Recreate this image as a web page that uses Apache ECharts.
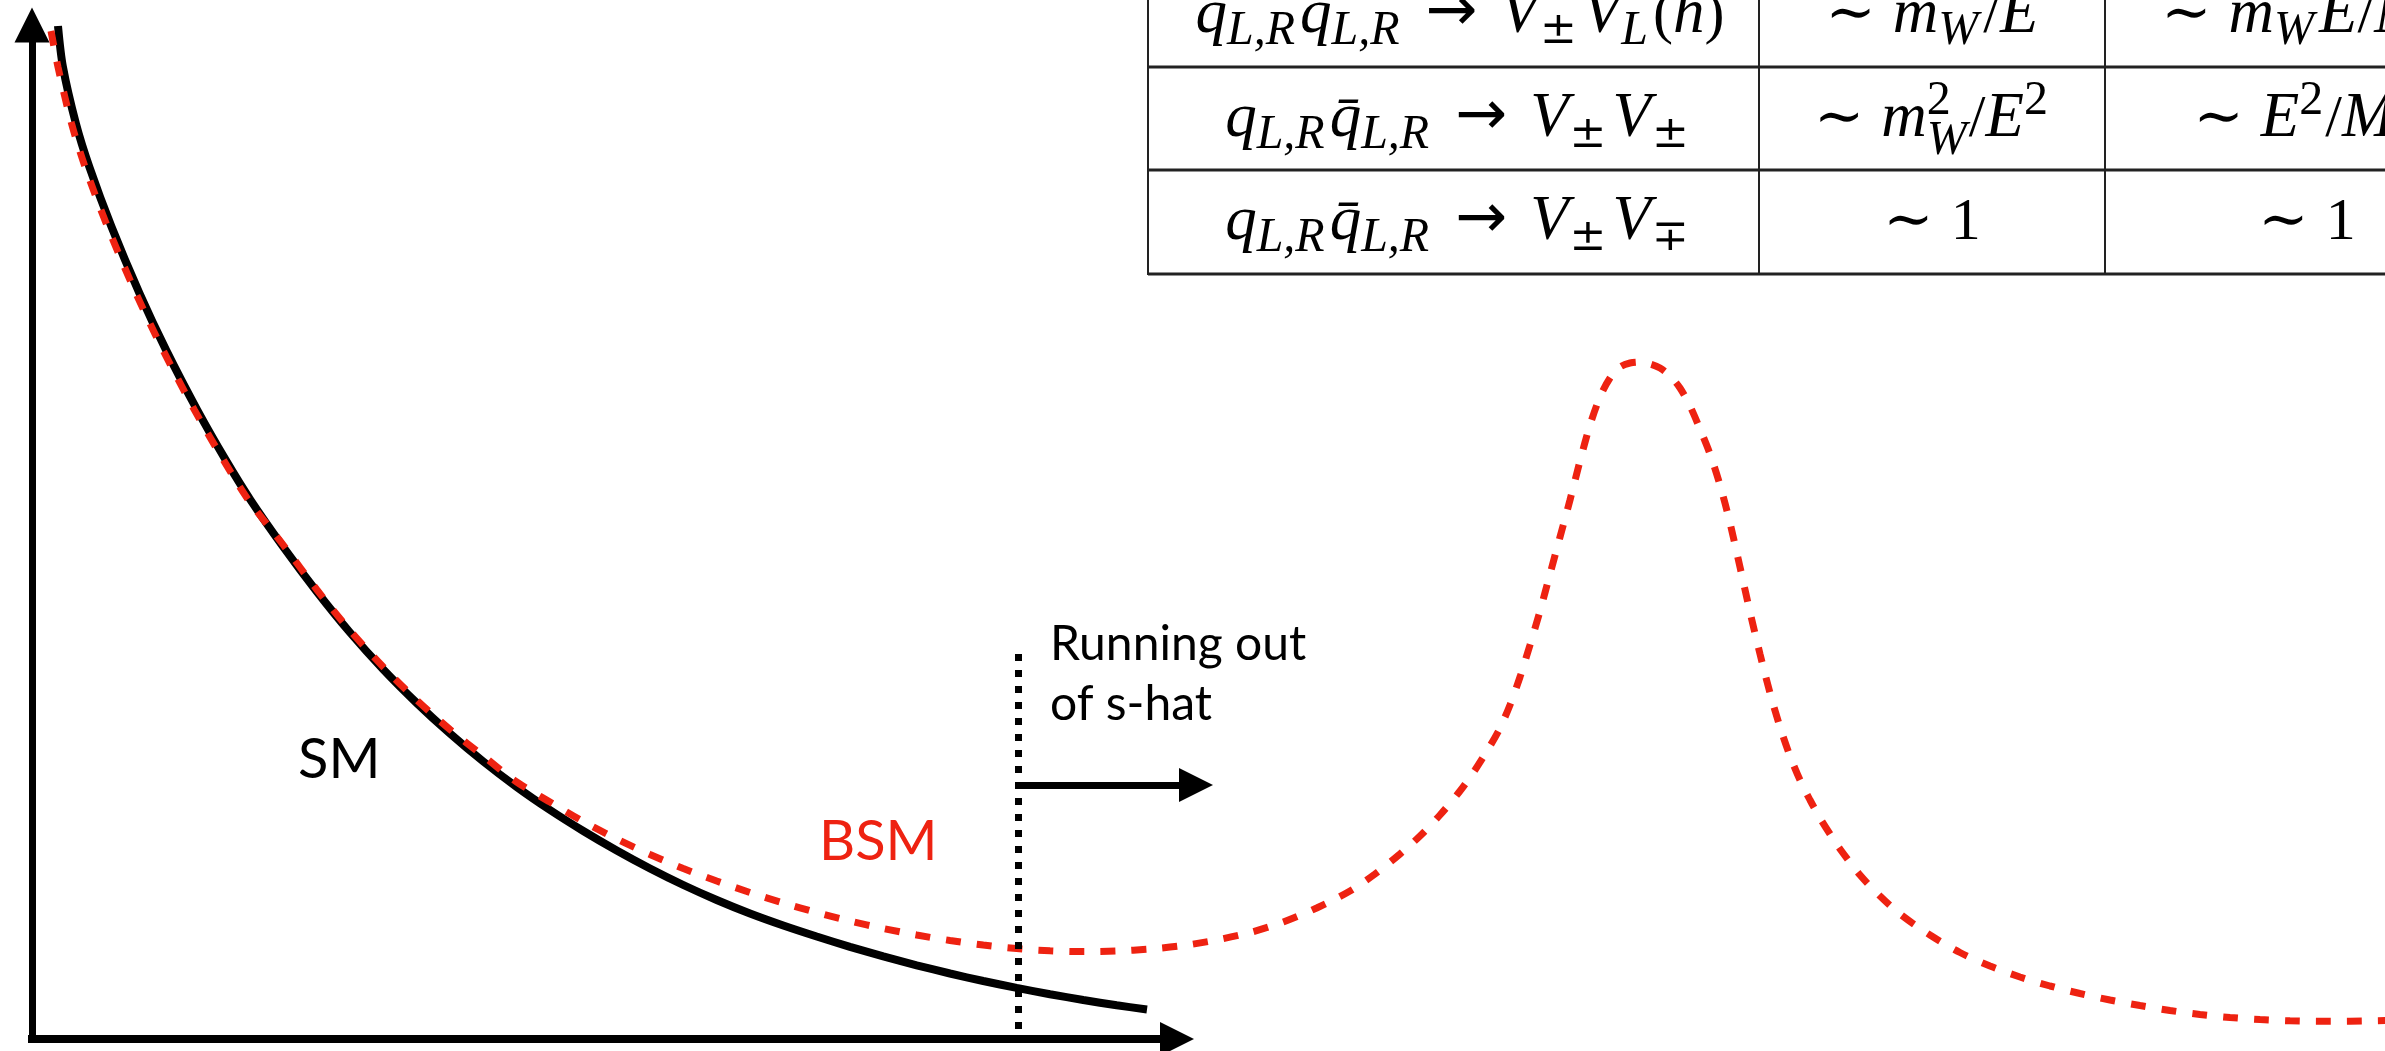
<!DOCTYPE html>
<html><head><meta charset="utf-8">
<script src="https://cdn.jsdelivr.net/npm/echarts@6/dist/echarts.min.js"></script>
<style>html,body{margin:0;padding:0;background:#fff;overflow:hidden}#c{width:2385px;height:1051px}</style>
</head><body><div id="c"></div>
<script>
// ---- data (x: energy, arbitrary units; y: rate, arbitrary units) ----
const smX = [2.6,3.09,4.39,5.73,7.95,10.75,13.41,16.53,19.38,21.86,25.13,28.47,31.8,35.13,38.47,41.8,45.13,48.47,51.8,55.13,58.47,61.8,65.13,68.47,71.8,75.13,78.47,81.8,85.13,88.47,91.8,95.13,98.47,101.8,105.13,108.47,111.5];
const smY = [101.3,97.23,91.56,87.23,81.23,74.56,68.89,62.89,57.89,53.89,49.2,44.75,40.65,36.95,33.6,30.55,27.75,25.2,22.9,20.8,18.85,17.05,15.4,13.9,12.55,11.35,10.25,9.22,8.26,7.37,6.55,5.8,5.11,4.48,3.9,3.37,2.95];
const bsmX = [1.9,2.6,3.95,5.3,7.55,10.4,13.1,16.25,19.15,21.65,25.13,28.47,31.8,35.13,38.47,41.8,45.13,48.47,51.8,55.13,58.47,61.8,65.13,68.47,71.8,75.13,78.47,81.8,85.13,88.47,91.8,95.13,98.47,101.8,105.13,108.47,111.8,115.13,118.47,121.8,125.13,128.47,131.8,134.3,136.8,138.8,140.8,142.8,144.3,145.8,146.8,147.8,148.8,149.8,150.8,151.8,152.8,153.8,154.8,155.8,156.8,157.8,158.8,159.8,160.8,161.8,162.8,163.8,164.8,165.8,166.8,167.8,168.8,169.8,170.8,171.8,172.8,173.8,174.8,175.8,176.8,177.8,178.8,179.8,180.8,182.8,184.8,186.8,189.8,192.8,195.8,198.8,201.8,204.8,207.8,210.8,213.8,216.8,219.8,222.8,225.8,228.8,231.8,235.8];
const bsmY = [100.8,97.2,91.56,87.23,81.23,74.56,68.89,62.89,57.89,53.89,49.4,44.95,40.85,37.2,33.9,30.95,28.3,25.7,23.7,21.75,20.0,18.45,17.05,15.8,14.65,13.6,12.65,11.8,11.05,10.4,9.85,9.4,9.05,8.82,8.74,8.8,9.0,9.35,9.9,10.65,11.7,13.1,14.8,16.5,18.5,20.3,22.4,24.8,26.9,29.3,31.1,33.4,36.2,39.4,42.8,46.5,50.2,53.9,57.8,61.4,64.2,66.1,67.2,67.6,67.7,67.5,67.1,66.3,65.1,63.3,61.0,58.5,55.4,51.6,47.2,42.7,38.5,34.6,31.2,28.3,25.9,23.9,22.1,20.5,19.0,16.4,14.3,12.5,10.4,8.65,7.3,6.2,5.3,4.55,3.9,3.35,2.85,2.45,2.15,1.95,1.82,1.77,1.78,1.85];
const cutLine = {x: 98.6, top: 38.5, bottom: 0.6};
const runArrow = {y: 25.4, from: 98.6, to: 116.4};
const labelSM = 'SM';
const labelBSM = 'BSM';
const labelRunning = ['Running out', 'of s-hat'];
// table cells (rich text)
const tableCol1 = [
  '{i|q}{s|L,R}{i|q\u0304}{s|L,R}{rel|\u2192}{i|V}{su|\u00b1}{i|V}{s|L}{u|(}{i|h}{u|)}',
  '{i|q}{s|L,R}{i|q\u0304}{s|L,R}{rel|\u2192}{i|V}{su|\u00b1}{i|V}{su|\u00b1}',
  '{i|q}{s|L,R}{i|q\u0304}{s|L,R}{rel|\u2192}{i|V}{su|\u00b1}{i|V}{su|\u2213}'
];
const tableCol2 = [
  '{rel0|\u223c}{i|m}{s|W}{u|/}{i|E}',
  '{rel0|\u223c}{i|m}{sz|W}{pw|2}{u|/}{i|E}{p|2}',
  '{rel0|\u223c}{u|1}'
];
const tableCol3 = [
  '{rel0|\u223c}{i|m}{s|W}{i|E}{u|/}{i|M}{p|2}',
  '{rel0|\u223c}{i|E}{p|2}{u|/}{i|M}{p|2}',
  '{rel0|\u223c}{u|1}'
];

const smData = smX.map((x, i) => [x, smY[i]]);
const bsmData = bsmX.map((x, i) => [x, bsmY[i]]);

const F = 63, S = 48, P0 = 20;
const fam = 'Liberation Serif, DejaVu Serif, serif';
function tok(o) { return Object.assign({fontFamily: fam, fontSize: F, lineHeight: F, fill: '#000', align: 'left', verticalAlign: 'top', padding: [P0, 0, 0, 0]}, o); }
const rich = {
  i: tok({fontStyle: 'italic'}),
  u: tok({fontStyle: 'normal', fontSize: 60, lineHeight: 60, padding: [P0 + 2, 0, 0, 0]}),
  rel: tok({fontFamily: 'DejaVu Sans', fontStyle: 'normal', fontSize: 62, lineHeight: 62, padding: [P0 - 1, 23, 0, 21]}),
  rel0: tok({fontStyle: 'normal', fontSize: 60, lineHeight: 60, padding: [P0 + 2, 17, 0, 0]}),
  s: tok({fontStyle: 'italic', fontSize: S, lineHeight: S, padding: [43, 5, 0, 0]}),
  su: tok({fontFamily: 'DejaVu Serif', fontStyle: 'normal', fontSize: 44, lineHeight: 44, padding: [46, 6, 0, 1]}),
  sz: tok({fontStyle: 'italic', fontSize: S, lineHeight: S, padding: [49, 0, 0, 0], width: 0}),
  pw: tok({fontStyle: 'normal', fontSize: S, lineHeight: S, padding: [9, 0, 0, 0], width: 42}),
  p: tok({fontStyle: 'normal', fontSize: S, lineHeight: S, padding: [9, 2, 0, 0]})
};
const colCenters = [1460, 1932, 2307];
const rowBaselines = [35, 139, 242];
const graphics = [];
[67, 170, 274].forEach(y => graphics.push({type: 'line', shape: {x1: 1148, y1: y, x2: 2400, y2: y}, style: {stroke: '#222', lineWidth: 3}}));
[1148, 1759, 2105].forEach(x => graphics.push({type: 'line', shape: {x1: x, y1: -10, x2: x, y2: 275}, style: {stroke: '#222', lineWidth: 2}}));
[tableCol1, tableCol2, tableCol3].forEach((col, ci) => col.forEach((t, ri) => {
  graphics.push({type: 'text', x: colCenters[ci], y: rowBaselines[ri] - 71, style: {text: t, align: 'center', verticalAlign: 'top', rich: rich, fill: '#000'}});
}));
graphics.push({type: 'text', x: 298, y: 760, style: {text: labelSM, fontFamily: 'Lato', fontSize: 56, fill: '#000', verticalAlign: 'middle'}});
graphics.push({type: 'text', x: 819, y: 842, style: {text: labelBSM, fontFamily: 'Lato', fontSize: 56, fill: '#ee2211', verticalAlign: 'middle'}});
graphics.push({type: 'text', x: 1050, y: 645, style: {text: labelRunning[0], fontFamily: 'Lato', fontSize: 48, fill: '#000', verticalAlign: 'middle'}});
graphics.push({type: 'text', x: 1050, y: 705, style: {text: labelRunning[1], fontFamily: 'Lato', fontSize: 48, fill: '#000', verticalAlign: 'middle'}});

const chart = echarts.init(document.getElementById('c'), null, {renderer: 'canvas'});
const hidden = {show: false};
chart.setOption({
  animation: false,
  backgroundColor: '#fff',
  grid: [
    {left: 32, top: 25, width: 1145, height: 1014},
    {left: 32, top: 0, right: 0, height: 1039}
  ],
  xAxis: [
    {gridIndex: 0, type: 'value', min: 0, max: 1, axisLine: {show: true, symbol: ['none', 'triangle'], symbolSize: [34, 34], lineStyle: {color: '#000', width: 8, cap: 'square'}}, axisTick: hidden, axisLabel: hidden, splitLine: hidden},
    {gridIndex: 1, type: 'value', min: 0, max: 235.3, show: false}
  ],
  yAxis: [
    {gridIndex: 0, type: 'value', min: 0, max: 1, axisLine: {show: true, symbol: ['none', 'triangle'], symbolSize: [35, 35], lineStyle: {color: '#000', width: 7, cap: 'square'}}, axisTick: hidden, axisLabel: hidden, splitLine: hidden},
    {gridIndex: 1, type: 'value', min: 0, max: 103.9, show: false}
  ],
  series: [
    {name: 'SM', type: 'line', xAxisIndex: 1, yAxisIndex: 1, data: smData, smooth: 0.3, showSymbol: false, clip: false, z: 2,
     lineStyle: {color: '#000', width: 8}},
    {name: 'BSM', type: 'line', xAxisIndex: 1, yAxisIndex: 1, data: bsmData, smooth: 0.3, showSymbol: false, clip: false, z: 3,
     lineStyle: {color: '#ee2211', width: 7, type: [15, 16]},
     markLine: {silent: true, symbol: ['none', 'none'], label: {show: false}, animation: false,
       data: [
         [{coord: [cutLine.x, cutLine.top], lineStyle: {color: '#000', width: 7, type: [7, 9]}}, {coord: [cutLine.x, cutLine.bottom]}]
       ]}
    },
    {name: 'arrow', type: 'line', xAxisIndex: 1, yAxisIndex: 1, data: [], z: 4,
     markLine: {silent: true, symbol: ['none', 'triangle'], symbolSize: [34, 34], label: {show: false}, animation: false,
       lineStyle: {color: '#000', width: 7, type: 'solid'},
       data: [[{coord: [runArrow.from, runArrow.y]}, {coord: [runArrow.to, runArrow.y]}]]}
    }
  ],
  graphic: graphics
});
</script></body></html>
